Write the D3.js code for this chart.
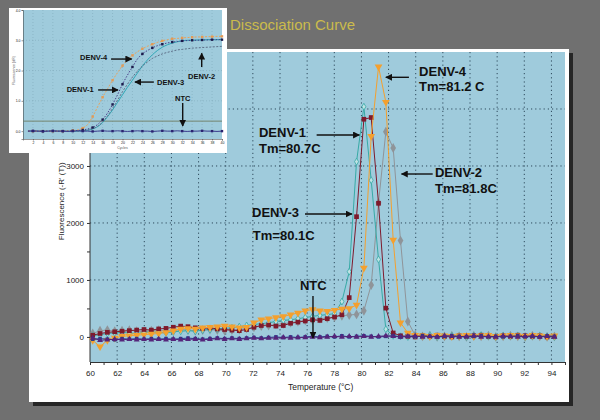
<!DOCTYPE html>
<html lang="en">
<head>
    <meta charset="UTF-8">
    <title>Dissociation Curve</title>
    <style>
        body {
            margin: 0;
            padding: 0;
            background-color: #707070;
        }
        svg {
            display: block;
            font-family: "Liberation Sans", Arial, sans-serif;
        }
        .grid line {
            stroke: #2e4a5c;
            stroke-dasharray: 1.2, 3;
        }
        .axis path, .axis line {
            stroke: #333;
        }
        .axis text {
            fill: #222;
        }
        .note {
            font-weight: bold;
            fill: #111;
        }
        .arrow {
            stroke: #111;
            stroke-width: 1.4;
        }
    </style>
</head>
<body>
    <svg width="600" height="420"></svg>

    <script src="https://cdn.jsdelivr.net/npm/d3@7"></script>
    <script>
        // melt curve: temperature of each reading (°C)
        const temps = [60.2, 60.74, 61.28, 61.82, 62.36, 62.9, 63.44, 63.98, 64.52, 65.06,
            65.6, 66.14, 66.68, 67.22, 67.76, 68.3, 68.84, 69.38, 69.92, 70.46,
            71.0, 71.54, 72.08, 72.62, 73.16, 73.7, 74.24, 74.78, 75.32, 75.86,
            76.4, 76.94, 77.48, 78.02, 78.56, 79.1, 79.64, 80.18, 80.72, 81.26,
            81.8, 82.34, 82.88, 83.42, 83.96, 84.5, 85.04, 85.58, 86.12, 86.66,
            87.2, 87.74, 88.28, 88.82, 89.36, 89.9, 90.44, 90.98, 91.52, 92.06,
            92.6, 93.14, 93.68, 94.22];

        // -R'(T) for each sample
        const denv1 = [20, 40, 60, 70, 80, 70, 60, 80, 90, 80,
            70, 90, 100, 110, 100, 120, 130, 140, 150, 160,
            180, 200, 220, 230, 250, 270, 290, 300, 320, 340,
            360, 380, 390, 410, 620, 1145, 3075, 4040, 2750, 1360,
            135, 20, 10, 0, 20, 10, 30, 0, 10, 20,
            10, 0, 20, 30, 10, 0, 20, 10, 20, 0,
            10, 20, 10, 0];
        const denv3 = [30, 60, 80, 90, 100, 110, 120, 130, 120, 140,
            150, 170, 190, 180, 160, 150, 160, 140, 130, 120,
            110, 130, 170, 200, 210, 190, 200, 240, 260, 280,
            300, 290, 320, 350, 390, 690, 2110, 3820, 3850, 2345,
            505, 70, 20, 10, 0, 20, 10, 30, 10, 0,
            20, 10, 20, 30, 10, 0, 20, 10, 30, 20,
            10, 20, 0, 10];
        const denv4 = [-60, -170, -60, -20, 10, 20, 30, 40, 50, 60,
            80, 110, 140, 150, 140, 160, 170, 180, 190, 180,
            160, 170, 250, 300, 320, 340, 360, 390, 420, 460,
            480, 460, 450, 470, 490, 500, 560, 1210, 3520, 4740,
            4120, 1700, 250, 70, 30, 20, 10, 30, 20, 10,
            20, 30, 10, 20, 30, 10, 20, 30, 20, 10,
            30, 20, 10, 20];
        const denv2 = [60, 110, 120, 100, 110, 120, 100, 90, 110, 120,
            100, 110, 130, 120, 110, 120, 130, 120, 110, 120,
            130, 150, 170, 190, 200, 220, 230, 250, 270, 290,
            300, 320, 330, 350, 370, 385, 395, 460, 910, 2355,
            3600, 3315, 1690, 270, 30, 10, 20, 0, 10, 20,
            10, 0, 20, 10, 20, 0, 10, 20, 10, 0,
            20, 10, 0, 10];
        const ntcA = [-20, -60, -50, -40, -50, -40, -50, -40, -50, -40,
            -50, -40, -50, -40, -40, -50, -40, -30, -40, -30,
            -40, -30, -20, -30, -20, -20, -10, -20, -10, -10,
            0, -10, 0, 10, 0, 10, 0, 10, 0, 10,
            20, 10, 0, 10, 20, 0, 10, 0, 20, 10,
            0, 10, 20, 0, 10, 0, 20, 10, 0, 10,
            20, 0, 10, 0];
        const ntcB = [-40, -30, -40, -50, -30, -40, -30, -40, -30, -40,
            -30, -40, -30, -20, -30, -40, -30, -20, -30, -20,
            -30, -20, -10, -20, -10, 0, -10, 0, -10, 0,
            10, 0, 10, 0, 20, 0, 10, 20, 10, 0,
            10, 20, 0, 10, 0, 20, 10, 0, 10, 20,
            10, 0, 10, 20, 0, 10, 0, 10, 20, 0,
            10, 0, 20, 10];

        // amplification plot (inset): cycles 1..40
        const cycles = d3.range(1, 41);
        const ampDenv4 = [0, 0, 0, 0, 0, 0, 0, 0, 0.01, 0.02,
            0.04, 0.1, 0.22, 0.48, 0.8, 1.12, 1.4, 1.68, 1.93, 2.16,
            2.35, 2.5, 2.62, 2.72, 2.8, 2.87, 2.93, 2.98, 3.02, 3.05,
            3.06, 3.08, 3.09, 3.1, 3.11, 3.11, 3.12, 3.12, 3.13, 3.13];
        const ampDenv1 = [0, 0, 0, 0, 0, 0, 0, 0, 0, 0.01,
            0.02, 0.04, 0.07, 0.12, 0.22, 0.38, 0.6, 0.88, 1.2, 1.55,
            1.85, 2.12, 2.38, 2.55, 2.66, 2.75, 2.82, 2.87, 2.91, 2.94,
            2.96, 2.98, 2.99, 3.0, 3.0, 3.01, 3.01, 3.02, 3.02, 3.02];
        const ampDenv3 = [0, 0, 0, 0, 0, 0, 0, 0, 0, 0,
            0, 0.01, 0.03, 0.07, 0.15, 0.28, 0.48, 0.7, 0.95, 1.2,
            1.45, 1.68, 1.92, 2.15, 2.35, 2.52, 2.66, 2.77, 2.85, 2.91,
            2.95, 2.98, 3.0, 3.0, 3.01, 3.01, 3.02, 3.02, 3.02, 3.03];
        const ampDenv2 = [0, 0, 0, 0, 0, 0, 0, 0, 0, 0,
            0, 0.01, 0.03, 0.08, 0.16, 0.3, 0.5, 0.75, 1.02, 1.3,
            1.55, 1.78, 1.98, 2.15, 2.28, 2.4, 2.48, 2.55, 2.6, 2.64,
            2.68, 2.7, 2.72, 2.74, 2.75, 2.76, 2.77, 2.78, 2.79, 2.8];
        const ampNtc = [0, 0.01, 0, -0.01, 0, 0.01, 0, 0, -0.01, 0,
            0.01, 0, 0, -0.01, 0, 0.01, 0, 0, 0.01, 0,
            -0.01, 0, 0.01, 0, 0, -0.01, 0, 0.01, 0, 0,
            0.01, 0, -0.01, 0, 0, 0.01, 0, 0, -0.01, 0];
        const ampThreshold = 0.33;

        const svg = d3.select("svg");

        // slide title
        svg.append("text")
            .attr("x", 230)
            .attr("y", 30)
            .attr("font-size", 15)
            .attr("fill", "#cbbb4c")
            .text("Dissociation Curve");

        // main panel + shadow
        svg.append("rect").attr("x", 33).attr("y", 53).attr("width", 540).attr("height", 353).attr("fill", "#262626");
        svg.append("rect").attr("x", 29).attr("y", 49).attr("width", 540).attr("height", 353).attr("fill", "#ffffff");

        const plot = {left: 90, right: 565, top: 52, bottom: 362};

        const x = d3.scaleLinear().domain([60, 95]).range([plot.left, plot.right]);
        const y = d3.scaleLinear().domain([-440, 5000]).range([plot.bottom, plot.top]);

        svg.append("rect")
            .attr("x", plot.left).attr("y", plot.top)
            .attr("width", plot.right - plot.left).attr("height", plot.bottom - plot.top)
            .attr("fill", "#9fcbdc");

        // dotted grid
        const grid = svg.append("g").attr("class", "grid");
        grid.selectAll(".v")
            .data(d3.range(62, 95, 2))
            .join("line")
            .attr("x1", d => x(d)).attr("x2", d => x(d))
            .attr("y1", plot.top).attr("y2", plot.bottom);
        grid.selectAll(".h")
            .data([1000, 2000, 3000, 4000])
            .join("line")
            .attr("x1", plot.left).attr("x2", plot.right)
            .attr("y1", d => y(d)).attr("y2", d => y(d));

        // axes
        svg.append("g")
            .attr("class", "axis")
            .attr("transform", `translate(0,${plot.bottom})`)
            .call(d3.axisBottom(x)
                .tickValues(d3.range(60, 96, 1))
                .tickFormat(d => (d % 2 === 0 && d < 95) ? d : "")
                .tickSize(3).tickPadding(5))
            .call(g => g.selectAll("text").attr("font-size", 8));

        svg.append("g")
            .attr("class", "axis")
            .attr("transform", `translate(${plot.left},0)`)
            .call(d3.axisLeft(y)
                .tickValues(d3.range(0, 5000, 500))
                .tickFormat(d => d % 1000 === 0 ? d : "")
                .tickSize(3).tickPadding(3))
            .call(g => g.select(".domain").attr("d", `M0,${plot.bottom}V${plot.top}`))
            .call(g => g.selectAll("text").attr("font-size", 8));

        svg.append("text")
            .attr("x", x(77))
            .attr("y", 390)
            .attr("text-anchor", "middle")
            .attr("font-size", 8.5)
            .attr("fill", "#222")
            .text("Temperature (°C)");

        svg.append("text")
            .attr("transform", `translate(64,${y(2380)}) rotate(-90)`)
            .attr("text-anchor", "middle")
            .attr("font-size", 8)
            .attr("fill", "#222")
            .text("Fluorescence (-R' (T))");

        // melt curves
        const series = [
            {values: denv2, color: "#8f9499", symbol: d3.symbolDiamond, size: 28, rotate: 0},
            {values: denv1, color: "#37aaa6", symbol: d3.symbolDiamond, size: 14, rotate: 0, open: true},
            {values: denv3, color: "#7e1a2c", symbol: d3.symbolSquare, size: 22, rotate: 0},
            {values: denv4, color: "#f4a02e", symbol: d3.symbolTriangle, size: 26, rotate: 180},
            {values: ntcB, color: "#2c3a8c", symbol: d3.symbolSquare, size: 13, rotate: 0},
            {values: ntcA, color: "#55257a", symbol: d3.symbolTriangle, size: 15, rotate: 0}
        ];

        const line = d3.line()
            .x(d => x(d[0]))
            .y(d => y(d[1]));

        series.forEach(s => {
            const pts = temps.map((t, i) => [t, s.values[i]]);
            const g = svg.append("g");
            g.append("path")
                .datum(pts)
                .attr("d", line)
                .attr("fill", "none")
                .attr("stroke", s.color)
                .attr("stroke-width", 1);
            g.selectAll("path.m")
                .data(pts)
                .join("path")
                .attr("class", "m")
                .attr("d", d3.symbol(s.symbol, s.size))
                .attr("transform", d => `translate(${x(d[0])},${y(d[1])}) rotate(${s.rotate})`)
                .attr("fill", s.open ? "#bfe3e4" : s.color)
                .attr("stroke", s.open ? s.color : "none")
                .attr("stroke-width", 0.8);
        });

        // labels with arrows
        const defs = svg.append("defs");
        defs.append("marker")
            .attr("id", "head")
            .attr("viewBox", "0 0 10 10")
            .attr("refX", 9).attr("refY", 5)
            .attr("markerWidth", 5).attr("markerHeight", 5)
            .attr("orient", "auto")
            .append("path").attr("d", "M0,0L10,5L0,10z").attr("fill", "#111");

        function note(lines, tx, vy, size, sx, sy, gap) {
            lines.forEach((t, i) => {
                svg.append("text")
                    .attr("class", "note")
                    .attr("x", sx(tx))
                    .attr("y", sy(vy) + i * gap)
                    .attr("font-size", size)
                    .text(t);
            });
        }
        function arrow(t1, v1, t2, v2, sx, sy, w) {
            svg.append("line")
                .attr("class", "arrow")
                .attr("x1", sx(t1)).attr("y1", sy(v1))
                .attr("x2", sx(t2)).attr("y2", sy(v2))
                .attr("stroke-width", w)
                .attr("marker-end", "url(#head)");
        }

        note(["DENV-4", "Tm=81.2 C"], 84.25, 4579, 13, x, y, 15);
        arrow(83.5, 4556, 81.8, 4556, x, y, 1.4);
        note(["DENV-1", "Tm=80.7C"], 72.45, 3508, 13, x, y, 16);
        arrow(76.7, 3543, 79.85, 3543, x, y, 1.4);
        note(["DENV-2", "Tm=81.8C"], 85.42, 2806, 13, x, y, 16);
        arrow(85.25, 2859, 82.95, 2859, x, y, 1.4);
        note(["DENV-3"], 71.94, 2104, 13, x, y, 0);
        note(["Tm=80.1C"], 72.0, 1701, 13, x, y, 0);
        arrow(75.84, 2157, 79.3, 2157, x, y, 1.4);
        note(["NTC"], 75.47, 823, 13, x, y, 0);
        arrow(76.43, 718, 76.43, -19, x, y, 1.4);

        // ---- inset amplification plot ----
        svg.append("rect").attr("x", 9).attr("y", 8).attr("width", 218).attr("height", 145).attr("fill", "#ffffff");

        const ip = {left: 23, right: 222, top: 10, bottom: 139};
        const ix = d3.scaleLinear().domain([0, 40]).range([ip.left, ip.right]);
        const iy = d3.scaleLinear().domain([-0.26, 4]).range([ip.bottom, ip.top]);

        svg.append("rect")
            .attr("x", ip.left).attr("y", ip.top)
            .attr("width", ip.right - ip.left).attr("height", ip.bottom - ip.top)
            .attr("fill", "#9fcbdc");

        const igrid = svg.append("g");
        igrid.selectAll(".v")
            .data(d3.range(2, 40, 2))
            .join("line")
            .attr("x1", d => ix(d)).attr("x2", d => ix(d))
            .attr("y1", ip.top).attr("y2", ip.bottom)
            .attr("stroke", "#7fa9bb").attr("stroke-width", 0.6)
            .attr("stroke-dasharray", "1,2");
        igrid.selectAll(".h")
            .data([1, 2, 3])
            .join("line")
            .attr("x1", ip.left).attr("x2", ip.right)
            .attr("y1", d => iy(d)).attr("y2", d => iy(d))
            .attr("stroke", "#7fa9bb").attr("stroke-width", 0.6)
            .attr("stroke-dasharray", "1,2");

        svg.append("g")
            .attr("class", "axis")
            .attr("transform", `translate(0,${ip.bottom})`)
            .call(d3.axisBottom(ix).tickValues(d3.range(2, 41, 2)).tickSize(1.5).tickPadding(1))
            .call(g => g.selectAll("text").attr("font-size", 3.5).attr("fill", "#555"))
            .call(g => g.selectAll("path, line").attr("stroke", "#555").attr("stroke-width", 0.5));
        svg.append("g")
            .attr("class", "axis")
            .attr("transform", `translate(${ip.left},0)`)
            .call(d3.axisLeft(iy).tickValues([0, 1, 2, 3, 4]).tickSize(1.5).tickPadding(1))
            .call(g => g.selectAll("text").attr("font-size", 3.5).attr("fill", "#555"))
            .call(g => g.selectAll("path, line").attr("stroke", "#555").attr("stroke-width", 0.5));

        svg.append("text")
            .attr("x", ix(20)).attr("y", 149)
            .attr("text-anchor", "middle").attr("font-size", 3.5).attr("fill", "#555")
            .text("Cycles");
        svg.append("text")
            .attr("transform", `translate(15,${iy(2)}) rotate(-90)`)
            .attr("text-anchor", "middle").attr("font-size", 3.5).attr("fill", "#555")
            .text("Fluorescence (dR)");

        // threshold
        svg.append("line")
            .attr("x1", ip.left).attr("x2", ip.right)
            .attr("y1", iy(ampThreshold)).attr("y2", iy(ampThreshold))
            .attr("stroke", "#6f7d62").attr("stroke-width", 0.9);

        const ampSeries = [
            {values: ampDenv3, color: "#2fa7b6", dash: null, marker: false},
            {values: ampDenv2, color: "#5d6f88", dash: "2,1.5", marker: false},
            {values: ampDenv4, color: "#e9a25a", dash: "2,1.5", marker: true, mcolor: "#e39a55"},
            {values: ampDenv1, color: "#4a3f8a", dash: "1.5,1.5", marker: true, mcolor: "#1c1a4a"},
            {values: ampNtc, color: "#3a3a8c", dash: null, marker: true, mcolor: "#2a2470"}
        ];
        const iline = d3.line()
            .curve(d3.curveMonotoneX)
            .x(d => ix(d[0]))
            .y(d => iy(d[1]));

        ampSeries.forEach(s => {
            const pts = cycles.map((c, i) => [c, s.values[i]]);
            svg.append("path")
                .datum(pts)
                .attr("d", iline)
                .attr("fill", "none")
                .attr("stroke", s.color)
                .attr("stroke-width", 1)
                .attr("stroke-dasharray", s.dash);
            if (s.marker) {
                svg.append("g")
                    .selectAll("rect")
                    .data(pts.filter((d, i) => i % 2 === 1))
                    .join("rect")
                    .attr("x", d => ix(d[0]) - 1.2)
                    .attr("y", d => iy(d[1]) - 1.2)
                    .attr("width", 2.4).attr("height", 2.4)
                    .attr("fill", s.mcolor);
            }
        });

        note(["DENV-4"], 11.46, 2.35, 7.5, ix, iy, 0);
        arrow(17.7, 2.38, 21.85, 2.38, ix, iy, 0.9);
        note(["DENV-1"], 8.78, 1.29, 7.5, ix, iy, 0);
        arrow(15.1, 1.36, 19.1, 1.36, ix, iy, 0.9);
        note(["DENV-3"], 26.93, 1.52, 7.5, ix, iy, 0);
        arrow(26.3, 1.62, 22.5, 1.62, ix, iy, 0.9);
        note(["DENV-2"], 33.17, 1.72, 7.5, ix, iy, 0);
        arrow(35.92, 2.12, 35.92, 2.57, ix, iy, 0.9);
        note(["NTC"], 30.55, 0.99, 7.5, ix, iy, 0);
        arrow(32.1, 0.93, 32.1, 0.17, ix, iy, 0.9);
    </script>
</body>
</html>
